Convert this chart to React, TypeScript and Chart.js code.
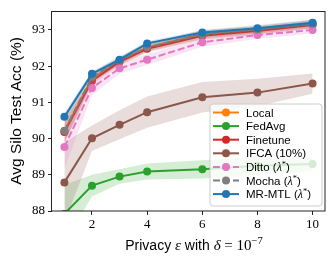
import React, { useEffect, useRef } from 'react';
import { Chart, registerables } from 'chart.js';
Chart.register(...registerables);

const epsilons = [1, 2, 3, 4, 6, 8, 10];
const xTickValues = [2, 4, 6, 8, 10];
const yTickValues = [88, 89, 90, 91, 92, 93];

const methodNames = ['Local', 'FedAvg', 'Finetune', 'IFCA (10%)', 'Ditto', 'Mocha', 'MR-MTL'];
const methodColors = ['#ff7f0e', '#2ca02c', '#d62728', '#8c564b', '#e377c2', '#7f7f7f', '#1f77b4'];
const methodBands = [
  'rgba(255,127,14,0.2)', 'rgba(44,160,44,0.2)', 'rgba(214,39,40,0.2)', 'rgba(140,86,75,0.2)',
  'rgba(227,119,194,0.2)', 'rgba(127,127,127,0.2)', 'rgba(31,119,180,0.2)',
];
const methodDashed = [false, false, false, false, true, true, false];
const methodLambda = [false, false, false, false, true, true, true];

const localAcc = [90.20, 91.66, 92.15, 92.52, 92.88, 93.00, 93.16];
const localStd = [0.30, 0.10, 0.10, 0.10, 0.10, 0.10, 0.10];
const fedavgAcc = [87.92, 88.70, 88.95, 89.09, 89.15, 89.25, 89.30];
const fedavgStd = [0.80, 0.30, 0.20, 0.22, 0.25, 0.25, 0.20];
const finetuneAcc = [90.18, 91.59, 92.12, 92.48, 92.84, 92.97, 93.14];
const finetuneStd = [0.30, 0.10, 0.10, 0.10, 0.10, 0.10, 0.10];
const ifcaAcc = [88.79, 90.01, 90.38, 90.73, 91.14, 91.27, 91.52];
const ifcaStd = [1.10, 0.35, 0.40, 0.43, 0.42, 0.38, 0.28];
const dittoAcc = [89.77, 91.40, 91.94, 92.18, 92.66, 92.86, 93.00];
const dittoStd = [0.60, 0.20, 0.15, 0.15, 0.12, 0.10, 0.10];
const mochaAcc = [90.22, 91.70, 92.16, 92.52, 92.88, 93.02, 93.17];
const mochaStd = [0.35, 0.12, 0.12, 0.12, 0.12, 0.12, 0.12];
const mrmtlAcc = [90.60, 91.79, 92.18, 92.63, 92.93, 93.05, 93.20];
const mrmtlStd = [0.10, 0.08, 0.06, 0.06, 0.06, 0.06, 0.08];

const allAcc = [localAcc, fedavgAcc, finetuneAcc, ifcaAcc, dittoAcc, mochaAcc, mrmtlAcc];
const allStd = [localStd, fedavgStd, finetuneStd, ifcaStd, dittoStd, mochaStd, mrmtlStd];

const SANS = '"Liberation Sans", Arial, sans-serif';
const SERIF = '"Liberation Serif", "Times New Roman", serif';

type Seg = { t: string; font: string; dy?: number };

function drawRich(ctx: CanvasRenderingContext2D, segs: Seg[], x: number, y: number, align: 'left' | 'center') {
  let total = 0;
  const widths = segs.map((s) => {
    ctx.font = s.font;
    const w = ctx.measureText(s.t).width;
    total += w;
    return w;
  });
  let cx = align === 'center' ? x - total / 2 : x;
  ctx.textBaseline = 'alphabetic';
  ctx.textAlign = 'left';
  segs.forEach((s, i) => {
    ctx.font = s.font;
    ctx.fillText(s.t, cx, y + (s.dy || 0));
    cx += widths[i];
  });
}

function legendSegs(i: number): Seg[] {
  const f = `11.5px ${SANS}`;
  if (!methodLambda[i]) return [{ t: methodNames[i], font: f }];
  return [
    { t: methodNames[i] + ' (', font: f },
    { t: 'λ', font: `italic 12px ${SERIF}` },
    { t: '*', font: `8.5px ${SERIF}`, dy: -4 },
    { t: ')', font: f },
  ];
}

const decorPlugin = {
  id: 'decor',
  afterDraw(chart: any) {
    const ctx: CanvasRenderingContext2D = chart.ctx;
    const a = chart.chartArea;
    ctx.save();
    // frame
    ctx.strokeStyle = '#222';
    ctx.lineWidth = 1;
    ctx.setLineDash([]);
    ctx.strokeRect(Math.round(a.left) - 0.5, Math.round(a.top) + 0.5, Math.round(a.right - a.left) + 0.5, Math.round(a.bottom - a.top) - 0.5);

    // legend
    const lx = 210, ly = 104, lw = 112, lh = 102, r = 3;
    ctx.beginPath();
    ctx.moveTo(lx + r, ly);
    ctx.lineTo(lx + lw - r, ly);
    ctx.quadraticCurveTo(lx + lw, ly, lx + lw, ly + r);
    ctx.lineTo(lx + lw, ly + lh - r);
    ctx.quadraticCurveTo(lx + lw, ly + lh, lx + lw - r, ly + lh);
    ctx.lineTo(lx + r, ly + lh);
    ctx.quadraticCurveTo(lx, ly + lh, lx, ly + lh - r);
    ctx.lineTo(lx, ly + r);
    ctx.quadraticCurveTo(lx, ly, lx + r, ly);
    ctx.closePath();
    ctx.fillStyle = 'rgba(255,255,255,0.8)';
    ctx.fill();
    ctx.strokeStyle = '#cccccc';
    ctx.lineWidth = 1;
    ctx.stroke();

    for (let i = 0; i < methodNames.length; i++) {
      const cy = 112.5 + i * 13.6;
      ctx.strokeStyle = methodColors[i];
      ctx.lineWidth = 2;
      ctx.setLineDash(methodDashed[i] ? [7, 3] : []);
      ctx.beginPath();
      ctx.moveTo(213, cy);
      ctx.lineTo(239, cy);
      ctx.stroke();
      ctx.setLineDash([]);
      ctx.fillStyle = methodColors[i];
      ctx.beginPath();
      ctx.arc(226, cy, 4, 0, Math.PI * 2);
      ctx.fill();
      ctx.fillStyle = '#000';
      drawRich(ctx, legendSegs(i), 246, cy + 4, 'left');
    }

    // x title
    ctx.fillStyle = '#000';
    drawRich(ctx, [
      { t: 'Privacy ', font: `14px ${SANS}` },
      { t: 'ε', font: `italic 15px ${SERIF}` },
      { t: ' with ', font: `14px ${SANS}` },
      { t: 'δ', font: `italic 15px ${SERIF}` },
      { t: ' = 10', font: `15px ${SERIF}` },
      { t: '−7', font: `10.5px ${SERIF}`, dy: -6 },
    ], 194, 250, 'center');

    // y title
    ctx.translate(21, (a.top + a.bottom) / 2);
    ctx.rotate(-Math.PI / 2);
    ctx.font = `15.5px ${SANS}`;
    ctx.textAlign = 'center';
    ctx.textBaseline = 'alphabetic';
    ctx.fillText('Avg Silo Test Acc (%)', 0, 0);
    ctx.restore();
  },
};

export default function App() {
  const ref = useRef<HTMLCanvasElement>(null);
  useEffect(() => {
    const datasets: any[] = [];
    const n = methodNames.length;
    for (let i = 0; i < n; i++) {
      const acc = allAcc[i];
      const sd = allStd[i];
      const ord = (n - i) * 10;
      datasets.push({
        data: epsilons.map((e, k) => ({ x: e, y: acc[k] - sd[k] })),
        borderWidth: 0, pointRadius: 0, fill: false, order: ord + 2, clip: 0,
        borderColor: 'transparent',
      });
      datasets.push({
        data: epsilons.map((e, k) => ({ x: e, y: acc[k] + sd[k] })),
        borderWidth: 0, pointRadius: 0, fill: '-1', backgroundColor: methodBands[i], order: ord + 1, clip: 0,
        borderColor: 'transparent',
      });
      datasets.push({
        label: methodNames[i],
        data: epsilons.map((e, k) => ({ x: e, y: acc[k] })),
        borderColor: methodColors[i],
        backgroundColor: methodColors[i],
        pointBackgroundColor: methodColors[i],
        pointBorderWidth: 0,
        pointRadius: 4,
        borderWidth: 2,
        borderDash: methodDashed[i] ? [7, 3] : [],
        tension: 0,
        fill: false,
        order: ord,
        clip: 0,
      });
    }
    const chart = new Chart(ref.current!, {
      type: 'line',
      data: { datasets },
      options: {
        animation: false,
        responsive: false,
        maintainAspectRatio: false,
        events: [],
        layout: { padding: { left: 0, right: 8, top: 8, bottom: 0 } },
        plugins: { legend: { display: false }, tooltip: { enabled: false }, title: { display: false } },
        scales: {
          x: {
            type: 'linear',
            min: 0.55,
            max: 10.45,
            afterBuildTicks: (s: any) => { s.ticks = xTickValues.map((v) => ({ value: v })); },
            afterFit: (s: any) => { s.height = 51; },
            ticks: { font: { family: SERIF, size: 13 }, color: '#000', padding: 2, maxRotation: 0, autoSkip: false },
            grid: { drawOnChartArea: false, drawTicks: true, tickLength: 4, color: '#222' },
            border: { display: false },
          },
          y: {
            type: 'linear',
            min: 88,
            max: 93.53,
            afterBuildTicks: (s: any) => { s.ticks = yTickValues.map((v) => ({ value: v })); },
            afterFit: (s: any) => { s.width = 52; },
            ticks: { font: { family: SERIF, size: 13 }, color: '#000', padding: 3, autoSkip: false },
            grid: { drawOnChartArea: false, drawTicks: true, tickLength: 4, color: '#222' },
            border: { display: false },
          },
        },
      },
      plugins: [decorPlugin],
    });
    return () => chart.destroy();
  }, []);
  return (
    <div style={{ position: 'fixed', left: 0, top: 0, width: 333, height: 262, background: '#fff' }}>
      <canvas ref={ref} width={333} height={262} style={{ width: 333, height: 262, display: 'block' }} />
    </div>
  );
}
